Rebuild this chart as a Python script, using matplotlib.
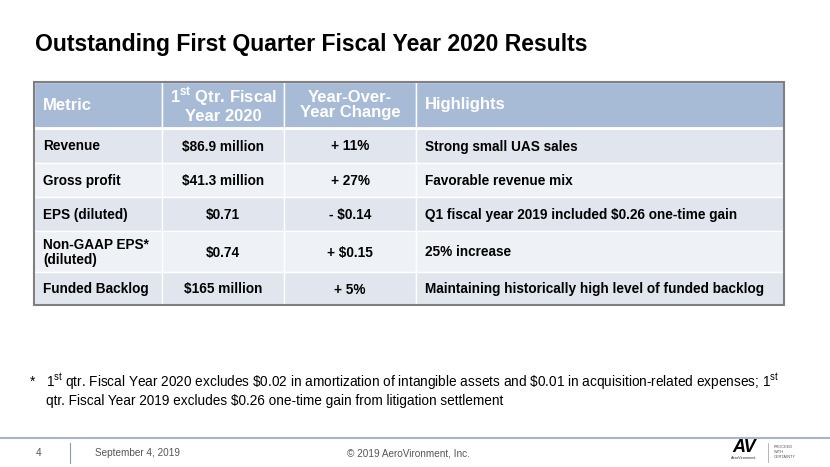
import matplotlib.pyplot as plt
from matplotlib.patches import Rectangle

plt.rcParams['font.family'] = ['Liberation Sans', 'DejaVu Sans']
plt.rcParams['mathtext.fontset'] = 'custom'
plt.rcParams['mathtext.rm'] = 'Liberation Sans'
plt.rcParams['mathtext.bf'] = 'Liberation Sans:bold'

# Datos de la tabla
encabezados = ['Metric', '1$^{\\mathbf{st}}$ Qtr. Fiscal\nYear 2020', 'Year-Over-\nYear Change', 'Highlights']
metricas = ['Revenue', 'Gross profit', 'EPS (diluted)', 'Non-GAAP EPS*\n(diluted)', 'Funded Backlog']
q1_fy2020 = ['$86.9 million', '$41.3 million', '$0.71', '$0.74', '$165 million']
cambio_anual = ['+ 11%', '+ 27%', '- $0.14', '+ $0.15', '+ 5%']
destacados = ['Strong small UAS sales', 'Favorable revenue mix',
              'Q1 fiscal year 2019 included $0.26 one-time gain', '25% increase',
              'Maintaining historically high level of funded backlog']

titulo = 'Outstanding First Quarter Fiscal Year 2020 Results'
nota = ('1$^{\\mathrm{st}}$ qtr. Fiscal Year 2020 excludes \\$0.02 in amortization of intangible assets '
        'and \\$0.01 in acquisition-related expenses; 1$^{\\mathrm{st}}$\n'
        'qtr. Fiscal Year 2019 excludes \\$0.26 one-time gain from litigation settlement')

# Geometría (pixeles)
col_x = [34, 162, 284, 416, 784]
fila_y = [82, 128, 163, 197, 231, 272, 305]
c_encabezado = '#A7BBD7'
c_filas = ['#E0E5EE', '#EEF1F6']

fig = plt.figure(figsize=(8.3, 4.67), dpi=100)
ax = fig.add_axes([0, 0, 1, 1])
ax.set_xlim(0, 830)
ax.set_ylim(467, 0)
ax.axis('off')

# Título
ax.text(35, 44, titulo, fontsize=16.6, fontweight='bold', va='center', ha='left')

# Celdas
for i in range(len(fila_y) - 1):
    color = c_encabezado if i == 0 else c_filas[(i - 1) % 2]
    for j in range(len(col_x) - 1):
        ax.add_patch(Rectangle((col_x[j], fila_y[i]), col_x[j + 1] - col_x[j],
                               fila_y[i + 1] - fila_y[i], facecolor=color,
                               edgecolor='white', linewidth=1.0))
ax.plot([col_x[0], col_x[-1]], [fila_y[1], fila_y[1]], color='white', linewidth=2)
ax.add_patch(Rectangle((col_x[0], fila_y[0]), col_x[-1] - col_x[0], fila_y[-1] - fila_y[0],
                       facecolor='none', edgecolor='#808080', linewidth=1.5, zorder=5))

# Encabezados
yc = (fila_y[0] + fila_y[1]) / 2
for j, h in enumerate(encabezados):
    if j in (0, 3):
        ax.text(col_x[j] + 9, yc, h, color='white', fontsize=12, fontweight='bold',
                ha='left', va='center')
    else:
        ax.text((col_x[j] + col_x[j + 1]) / 2, yc, h, color='white', fontsize=12,
                fontweight='bold', ha='center', va='center', linespacing=1.05)

# Filas
for i in range(len(metricas)):
    yc = (fila_y[i + 1] + fila_y[i + 2]) / 2 + 1
    ax.text(col_x[0] + 9, yc, metricas[i], fontsize=9.8, fontweight='bold',
            ha='left', va='center', linespacing=1.05)
    ax.text((col_x[1] + col_x[2]) / 2, yc, q1_fy2020[i].replace('$', '\\$'), fontsize=9.8,
            fontweight='bold', ha='center', va='center')
    ax.text((col_x[2] + col_x[3]) / 2, yc, cambio_anual[i].replace('$', '\\$'), fontsize=9.8,
            fontweight='bold', ha='center', va='center')
    ax.text(col_x[3] + 9, yc, destacados[i].replace('$', '\\$'), fontsize=9.8,
            fontweight='bold', ha='left', va='center')

# Nota al pie
ax.text(30, 382, '*', fontsize=9.8, ha='left', va='center')
ax.text(46, 390, nota, fontsize=9.8, ha='left', va='center', linespacing=1.15)

# Pie de página
ax.plot([0, 830], [438, 438], color='#A9B6C9', linewidth=1.5)
ax.plot([70, 70], [443, 463], color='#8A9BB5', linewidth=0.8)
ax.text(36, 453, '4', fontsize=7.2, color='#555555', ha='left', va='center')
ax.text(95, 453, 'September 4, 2019', fontsize=7.2, color='#555555', ha='left', va='center')
ax.text(408, 453, '\u00a9 2019 AeroVironment, Inc.', fontsize=7.2, color='#555555',
        ha='center', va='center')

# Logo
ax.text(744, 448, 'AV', fontsize=13, fontweight='bold', style='italic', ha='center',
        va='center')
ax.text(744, 458, 'AeroVironment', fontsize=2.8, ha='center', va='center', color='#333333')
ax.plot([768, 768], [443, 462], color='#999999', linewidth=0.5)
ax.text(774, 452, 'PROCEED\nWITH\nCERTAINTY', fontsize=2.8, ha='left', va='center',
        color='#555555', linespacing=1.3)

fig.savefig('out.png', dpi=100)
